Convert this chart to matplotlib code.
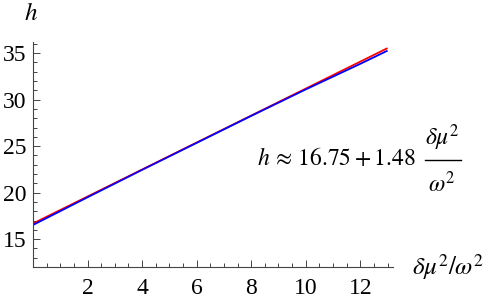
import matplotlib
matplotlib.use("Agg")
import matplotlib.pyplot as plt
from matplotlib.ticker import MultipleLocator
from matplotlib.lines import Line2D

# data
x_fit = [0, 13]
y_fit = [16.68, 35.54]          # red: linear fit
x_data = [0, 2, 4, 6, 8, 10, 12, 13]
y_data = [16.52, 19.5, 22.45, 25.35, 28.25, 31.1, 33.85, 35.27]  # blue
x_ticks = [2, 4, 6, 8, 10, 12]
y_ticks = [15, 20, 25, 30, 35]

plt.rcParams['font.family'] = ['Liberation Serif', 'DejaVu Serif']
plt.rcParams['mathtext.fontset'] = 'stix'

W, H = 485, 303
fig = plt.figure(figsize=(W/100, H/100), dpi=100)
ax = fig.add_axes([33/W, 36/H, 360/W, 225/H])

ax.plot(x_fit, y_fit, color='#ff0000', lw=1.3, solid_capstyle='butt')
ax.plot(x_data, y_data, color='#0000ff', lw=1.3, solid_capstyle='butt')

ax.set_xlim(0, 13.2)
ax.set_ylim(12, 36.2)
for s in ['top', 'right']:
    ax.spines[s].set_visible(False)
for s in ['left', 'bottom']:
    ax.spines[s].set_color('#444444')
    ax.spines[s].set_linewidth(0.8)

ax.set_xticks(x_ticks)
ax.set_yticks(y_ticks)
ax.xaxis.set_minor_locator(MultipleLocator(0.5))
ax.yaxis.set_minor_locator(MultipleLocator(1))
ax.tick_params(which='both', direction='in', color='#444444', width=0.7,
               labelsize=17, colors='#444444', labelcolor='black')
ax.tick_params(which='major', length=5, pad=8)
ax.tick_params(which='minor', length=3)
ax.tick_params(axis='y', which='major', pad=5)

def px(x, y):
    return x / W, 1 - y / H

fig.text(*px(31, 20), r'$h$', fontsize=18, ha='center', va='baseline')
fig.text(*px(448, 275), r'$\delta\mu^2/\omega^2$', fontsize=18,
         ha='center', va='baseline')

# formula annotation
fig.text(*px(257, 165), r'$h\,\approx\,16.75+1.48$', fontsize=17,
         ha='left', va='baseline')
fig.text(*px(442, 145), r'$\delta\mu^2$', fontsize=17, ha='center', va='baseline')
fig.text(*px(442, 192), r'$\omega^2$', fontsize=17, ha='center', va='baseline')
x0, yb = px(425, 160)
x1, _ = px(461, 160)
fig.add_artist(Line2D([x0, x1], [yb, yb], color='black', lw=1.0,
                      transform=fig.transFigure))

fig.savefig('out.png', dpi=100)
